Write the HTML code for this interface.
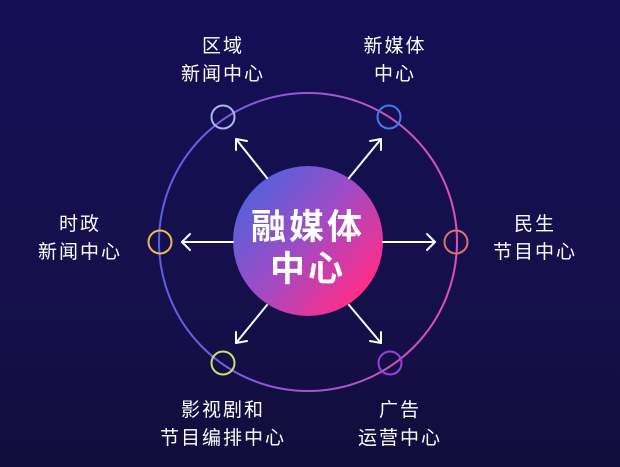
<!DOCTYPE html>
<html><head><meta charset="utf-8"><style>
body{margin:0;width:620px;height:467px;overflow:hidden;background:linear-gradient(180deg,#130f55 0%,#15104c 60%,#120d3c 100%);}
.t{position:absolute;color:#fff;font:19px/28px "Liberation Sans","Noto Sans CJK SC",sans-serif;letter-spacing:2px;text-align:center;width:200px}
</style></head><body>
<svg width="620" height="467" style="position:absolute;left:0;top:0">
<defs>
<linearGradient id="ring" x1="0" y1="0" x2="1" y2="0"><stop offset="0" stop-color="#5b5ee8"/><stop offset="1" stop-color="#e24fb4"/></linearGradient>
<linearGradient id="core" x1="0.1" y1="0.1" x2="0.9" y2="0.8"><stop offset="0" stop-color="#4f62dd"/><stop offset="0.5" stop-color="#9d4cc6"/><stop offset="1" stop-color="#ff2d8a"/></linearGradient>
</defs>
<circle cx="308" cy="242" r="149" fill="none" stroke="url(#ring)" stroke-width="2"/>
<circle cx="308" cy="241" r="75" fill="url(#core)"/>
<g stroke="#fff" stroke-width="2" fill="none" stroke-linecap="round" stroke-linejoin="round">
<line x1="233" y1="242" x2="182" y2="242"/><polyline points="190,234 182,242 190,250"/>
<line x1="383" y1="242" x2="435" y2="242"/><polyline points="427,234 435,242 427,250"/>
<line x1="267" y1="178" x2="236" y2="139"/><polyline points="236,150 236,139 247,141"/>
<line x1="349" y1="178" x2="381" y2="139"/><polyline points="370,141 381,139 381,150"/>
<line x1="267" y1="305" x2="236" y2="343"/><polyline points="236,332 236,343 247,341"/>
<line x1="349" y1="305" x2="381" y2="343"/><polyline points="370,341 381,343 381,332"/>
</g>
<g fill="none" stroke-width="2">
<circle cx="223" cy="117" r="11.5" stroke="#a9b4f5"/>
<circle cx="389" cy="117" r="11.5" stroke="#3f7de8"/>
<circle cx="160" cy="242" r="11.5" stroke="#f0b850"/>
<circle cx="456" cy="242" r="11.5" stroke="#e0706a"/>
<circle cx="223" cy="363" r="11.5" stroke="#c8e078"/>
<circle cx="390" cy="363" r="11.5" stroke="#9a3ee0"/>
</g>
<text x="308" y="239" fill="#fff" text-anchor="middle" font-family="Liberation Sans,Noto Sans CJK SC,sans-serif" font-weight="bold" font-size="35" letter-spacing="3">融媒体</text>
<text x="308" y="281" fill="#fff" text-anchor="middle" font-family="Liberation Sans,Noto Sans CJK SC,sans-serif" font-weight="bold" font-size="35" letter-spacing="3">中心</text>
</svg>
<div class="t" style="left:123px;top:33px">区域<br>新闻中心</div>
<div class="t" style="left:295px;top:33px">新媒体<br>中心</div>
<div class="t" style="left:-20px;top:211px">时政<br>新闻中心</div>
<div class="t" style="left:435px;top:211px">民生<br>节目中心</div>
<div class="t" style="left:123px;top:397px">影视剧和<br>节目编排中心</div>
<div class="t" style="left:300px;top:397px">广告<br>运营中心</div>
</body></html>
